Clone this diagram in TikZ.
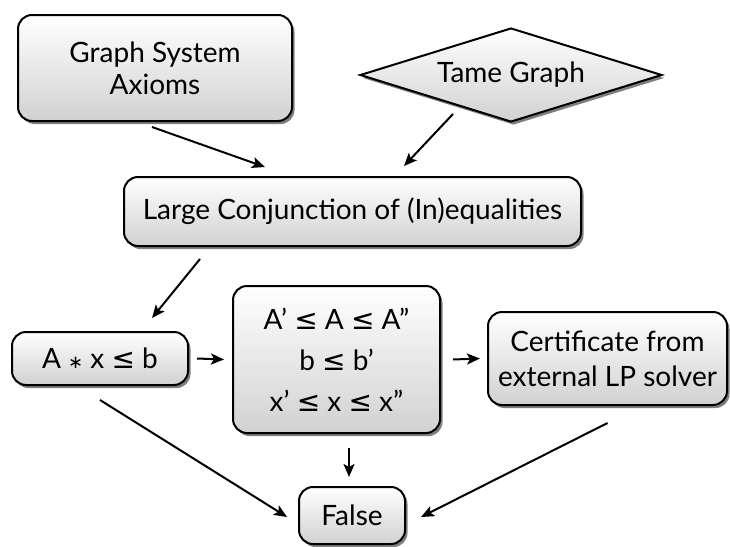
\documentclass[tikz,border=0pt]{standalone}
\usepackage{fontspec}
\setmainfont{Lato}
\newfontfamily\symf{DejaVu Sans}
\usetikzlibrary{shapes.geometric,arrows.meta,shadows}
\newcommand{\leqs}{{\symf ≤}}
\newcommand{\asts}{{\symf\fontsize{18}{18}\selectfont ∗}}
\tikzset{
  box/.style={draw=black, line width=2pt, rounded corners=14pt,
    top color=white, bottom color=black!18,
    drop shadow={shadow xshift=2.5pt, shadow yshift=-3pt, opacity=0.5, fill=black},
    inner sep=0pt, align=center, font=\fontsize{28}{32}\selectfont},
  arr/.style={-{Stealth[length=13pt,width=11pt,inset=3pt]}, line width=2pt},
}
\begin{document}
\begin{tikzpicture}[x=1pt,y=-1pt]
\useasboundingbox (0,0) rectangle (730,546);
\node[box, minimum width=274pt, minimum height=106pt] (gsa) at (155,68) {Graph System\\Axioms};
\node[box, diamond, rounded corners=0pt, minimum width=302pt, minimum height=94pt, aspect=3.2] (tame) at (511,75) {Tame Graph};
\node[box, minimum width=457pt, minimum height=69pt] (lc) at (352.5,211.5) {Large Conjunction of (In)equalities};
\node[box, minimum width=176pt, minimum height=53pt] (ax) at (100,358.5) {A \asts\ x \leqs\ b};
\node[box, minimum width=207pt, minimum height=147pt, font=\fontsize{28}{41}\selectfont] (mid) at (336.5,359.5) {A’ \leqs\ A \leqs\ A”\\b \leqs\ b’\\x’ \leqs\ x \leqs\ x”};
\node[box, minimum width=239pt, minimum height=93pt, font=\fontsize{28}{35}\selectfont] (cert) at (607.5,358.5) {Certificate from\\external LP solver};
\node[box, minimum width=106pt, minimum height=57pt] (false) at (352,515.5) {False};

\draw[arr] ([xshift=-3pt,yshift=-5pt]gsa.south) -- ([xshift=-87.5pt,yshift=9pt]lc.north);
\draw[arr] ([xshift=-58pt,yshift=9pt]tame.south) -- ([xshift=51.5pt,yshift=10pt]lc.north);
\draw[arr] ([xshift=-152.5pt,yshift=-12pt]lc.south) -- ([xshift=52pt,yshift=13pt]ax.north);
\draw[arr] ([xshift=8pt]ax.east) -- ([xshift=-8pt]mid.west);
\draw[arr] ([xshift=12pt]mid.east) -- ([xshift=-7pt]cert.west);
\draw[arr] ([xshift=12.5pt,yshift=-14pt]mid.south) -- ([xshift=-3pt,yshift=9pt]false.north);
\draw[arr] ([yshift=-14pt]ax.south) -- ([xshift=-11pt,yshift=-1.5pt]false.west);
\draw[arr] ([yshift=-17pt]cert.south) -- ([xshift=15pt,yshift=-1.5pt]false.east);
\end{tikzpicture}
\end{document}
